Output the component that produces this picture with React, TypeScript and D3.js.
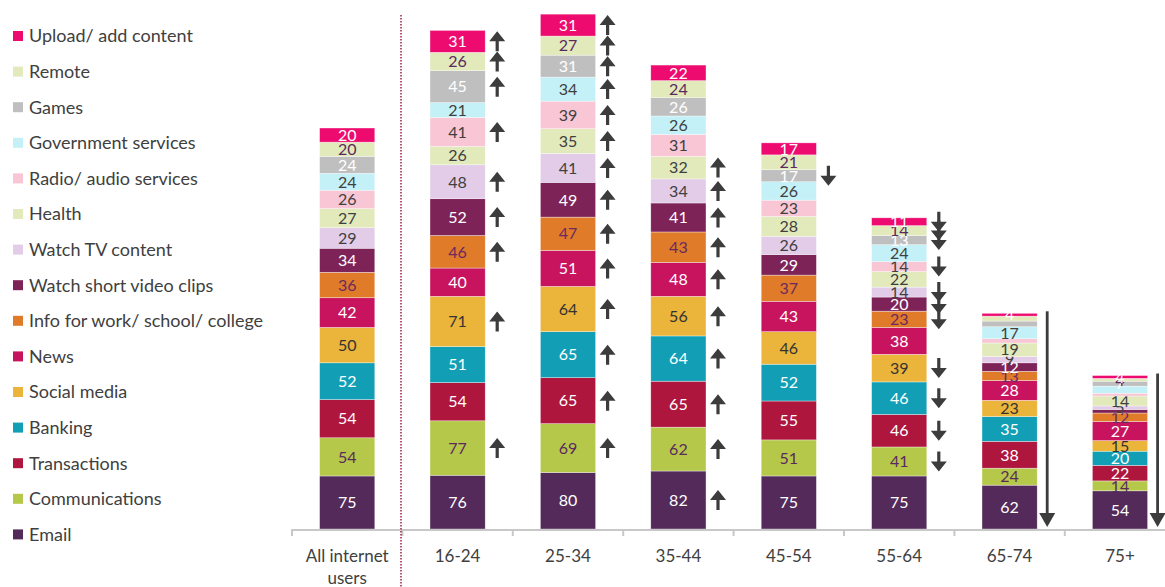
import React from "react";
import * as d3 from "d3";

const categories = ["All internet users", "16-24", "25-34", "35-44", "45-54", "55-64", "65-74", "75+"];

// series listed bottom to top of each stack
const seriesNames = [
  "Email",
  "Communications",
  "Transactions",
  "Banking",
  "Social media",
  "News",
  "Info for work/ school/ college",
  "Watch short video clips",
  "Watch TV content",
  "Health",
  "Radio/ audio services",
  "Government services",
  "Games",
  "Remote",
  "Upload/ add content",
];

const email = [75, 76, 80, 82, 75, 75, 62, 54];
const communications = [54, 77, 69, 62, 51, 41, 24, 14];
const transactions = [54, 54, 65, 65, 55, 46, 38, 22];
const banking = [52, 51, 65, 64, 52, 46, 35, 20];
const socialMedia = [50, 71, 64, 56, 46, 39, 23, 15];
const news = [42, 40, 51, 48, 43, 38, 28, 27];
const infoWork = [36, 46, 47, 43, 37, 23, 13, 12];
const shortVideo = [34, 52, 49, 41, 29, 20, 12, 5];
const watchTv = [29, 48, 41, 34, 26, 14, 9, 5];
const health = [27, 26, 35, 32, 28, 22, 19, 14];
const radio = [26, 41, 39, 31, 23, 14, 6, 4];
const government = [24, 21, 34, 26, 26, 24, 17, 10];
const games = [24, 45, 31, 26, 17, 13, 8, 7];
const remote = [20, 26, 27, 24, 21, 14, 7, 4];
const upload = [20, 31, 31, 22, 17, 11, 4, 4];

const seriesValues = [
  email, communications, transactions, banking, socialMedia, news, infoWork,
  shortVideo, watchTv, health, radio, government, games, remote, upload,
];

// significance vs all internet users: u = higher, d = lower
const sigEmail = ["", "", "", "u", "", "", "", ""];
const sigCommunications = ["", "u", "u", "u", "", "d", "", ""];
const sigTransactions = ["", "", "u", "u", "", "d", "", ""];
const sigBanking = ["", "", "u", "u", "", "d", "", ""];
const sigSocial = ["", "u", "u", "u", "", "d", "", ""];
const sigNews = ["", "", "u", "u", "", "", "", ""];
const sigInfo = ["", "u", "u", "u", "", "d", "", ""];
const sigShort = ["", "u", "u", "u", "", "d", "", ""];
const sigTv = ["", "u", "u", "u", "", "d", "", ""];
const sigHealth = ["", "", "u", "u", "", "", "", ""];
const sigRadio = ["", "u", "u", "", "", "d", "", ""];
const sigGov = ["", "", "u", "", "", "", "", ""];
const sigGames = ["", "u", "u", "", "d", "d", "", ""];
const sigRemote = ["", "u", "u", "", "", "d", "", ""];
const sigUpload = ["", "u", "u", "", "", "d", "", ""];

const sigValues = [
  sigEmail, sigCommunications, sigTransactions, sigBanking, sigSocial, sigNews, sigInfo,
  sigShort, sigTv, sigHealth, sigRadio, sigGov, sigGames, sigRemote, sigUpload,
];

// whole column lower than all internet users
const allLowerCategories = ["65-74", "75+"];

const hiddenLabels = ["65-74|Radio/ audio services", "65-74|Games", "65-74|Remote",
  "75+|Watch short video clips", "75+|Radio/ audio services", "75+|Government services"];

const colors = [
  "#532a5a", "#b5c84a", "#ae163e", "#129fb5", "#ebb43a", "#c8145e", "#e07b2a",
  "#7e2358", "#e2cce8", "#e2e9bb", "#f8c6d4", "#c4f1f7", "#bfbfbf", "#e2e9bb", "#ee0b6f",
];
const labelColors = [
  "#ffffff", "#5a2a5e", "#ffffff", "#ffffff", "#333333", "#ffffff", "#6b2a5e",
  "#ffffff", "#404040", "#404040", "#404040", "#404040", "#ffffff", "#5a2a5e", "#ffffff",
];

const W = 1165;
const H = 587;
const baseY = 529;
const FONT = "Lato, 'Open Sans', sans-serif";

function arrowPath(cx: number, cy: number, up: boolean) {
  const h = 20, hw = 8, headH = 10, sw = 1.6;
  const s = up ? -1 : 1;
  const tip = cy + s * (h / 2);
  const back = tip - s * headH;
  const tail = cy - s * (h / 2);
  return `M${cx},${tip} L${cx + hw},${back} L${cx + sw},${back} L${cx + sw},${tail} L${cx - sw},${tail} L${cx - sw},${back} L${cx - hw},${back} Z`;
}

export default function App() {
  const x = d3.scaleBand<string>().domain(categories).range([292, 292 + 8 * 110.4]).paddingInner(0.5).paddingOuter(0.25);
  const y = d3.scaleLinear().domain([0, 748]).range([baseY, 0]);

  const rows = categories.map((c, i) => {
    const r: Record<string, number | string> = { cat: c };
    seriesNames.forEach((s, j) => (r[s] = seriesValues[j][i]));
    return r;
  });
  const stacked = d3.stack<Record<string, number | string>>().keys(seriesNames)(rows as any);

  const bw = x.bandwidth();
  const legendReversed = seriesNames.map((n, i) => ({ n, c: colors[i] })).reverse();
  const ticks = d3.range(categories.length + 1).map((i) => 292 + i * x.step());

  return (
    <svg width={W} height={H} style={{ position: "absolute", left: 0, top: 0 }} fontFamily={FONT}>
      {/* legend */}
      {legendReversed.map((d, i) => (
        <g key={d.n} transform={`translate(13, ${36 + i * 35.6})`}>
          <rect x={0} y={-5} width={10} height={10} fill={d.c} />
          <text x={16} y={0} dy="0.35em" fontSize={18} fill="#404040">{d.n}</text>
        </g>
      ))}

      {/* bars */}
      {stacked.map((layer, j) => (
        <g key={layer.key}>
          {layer.map((seg, i) => {
            const cat = categories[i];
            const x0 = x(cat)!;
            const y0 = y(seg[1]);
            const y1 = y(seg[0]);
            const v = seriesValues[j][i];
            const show = !hiddenLabels.includes(`${cat}|${layer.key}`);
            return (
              <g key={cat}>
                <rect x={x0} y={y0} width={bw} height={y1 - y0} fill={colors[j]} stroke="#ffffff" strokeOpacity={0.6} strokeWidth={0.6} />
                {show && (
                  <text x={x0 + bw / 2} y={(y0 + y1) / 2} dy="0.36em" textAnchor="middle" fontSize={16} fill={labelColors[j]}>{v}</text>
                )}
              </g>
            );
          })}
        </g>
      ))}

      {/* significance arrows */}
      {stacked.map((layer, j) =>
        layer.map((seg, i) => {
          const s = sigValues[j][i];
          if (!s) return null;
          const cat = categories[i];
          const cx = x(cat)! + bw + 12;
          const cy = (y(seg[0]) + y(seg[1])) / 2;
          return <path key={`${j}-${i}`} d={arrowPath(cx, cy, s === "u")} fill="#3c3c3c" />;
        })
      )}
      {allLowerCategories.map((cat) => {
        const i = categories.indexOf(cat);
        const top = y(stacked[stacked.length - 1][i][1]);
        const cx = x(cat)! + bw + 10;
        const bottom = baseY - 2;
        return (
          <g key={cat}>
            <rect x={cx - 1.4} y={top - 2} width={2.8} height={bottom - top - 10} fill="#3c3c3c" />
            <path d={`M${cx - 8},${bottom - 14} L${cx + 8},${bottom - 14} L${cx},${bottom} Z`} fill="#3c3c3c" />
          </g>
        );
      })}

      {/* axis */}
      <line x1={292} x2={W} y1={baseY + 1} y2={baseY + 1} stroke="#c8c8c8" strokeWidth={2} />
      {ticks.map((t) => (
        <line key={t} x1={t} x2={t} y1={baseY} y2={baseY + 7} stroke="#c8c8c8" strokeWidth={2} />
      ))}
      {categories.map((c) => {
        const cx = x(c)! + bw / 2;
        if (c === "All internet users") {
          return (
            <text key={c} x={cx} y={556} textAnchor="middle" fontSize={17} fill="#404040">
              <tspan x={cx} dy="0.35em">All internet</tspan>
              <tspan x={cx} dy="22">users</tspan>
            </text>
          );
        }
        return <text key={c} x={cx} y={556} dy="0.35em" textAnchor="middle" fontSize={17} fill="#404040">{c}</text>;
      })}

      {/* divider */}
      <line x1={401} x2={401} y1={15} y2={H} stroke="#a31d3f" strokeWidth={1.5} strokeDasharray="1.5,1.5" />
    </svg>
  );
}
